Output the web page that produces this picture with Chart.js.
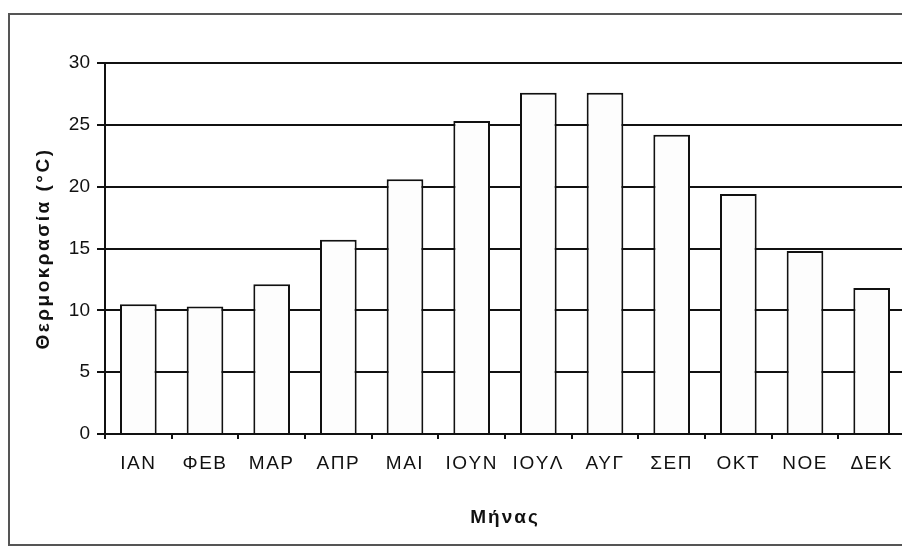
<!DOCTYPE html>
<html>
<head>
<meta charset="utf-8">
<script src="https://cdn.jsdelivr.net/npm/chart.js@4"></script>
<style>
  html, body { margin: 0; padding: 0; background: #fff; overflow: hidden; }
  body { width: 902px; height: 549px; position: relative; }
  #frame {
    position: absolute; left: 8px; top: 13px; width: 1000px; height: 533px;
    border: 2px solid #555; box-sizing: border-box;
  }
  #wrap { position: absolute; left: 0; top: 0; width: 920px; height: 549px; }
</style>
</head>
<body>
<div id="frame"></div>
<div id="wrap"><canvas id="c" width="920" height="549"></canvas></div>
<script>
// Monthly mean temperature (°C)
const months = ['IAN', 'ΦΕΒ', 'MAP', 'AΠΡ', 'MAI', 'IOYN', 'IOYΛ', 'AYΓ', 'ΣΕΠ', 'OKT', 'NOE', 'ΔΕΚ'];
const temperature = [10.5, 10.3, 12.1, 15.7, 20.6, 25.3, 27.6, 27.6, 24.2, 19.4, 14.8, 11.8];
const yTicks = [0, 5, 10, 15, 20, 25, 30];

const FONT = "'Liberation Sans', Arial, sans-serif";
const INK = '#111';

// Wrap one of a scale's draw methods so its text is drawn with extra letter spacing.
function spaced(scale, method, spacing) {
  if (scale['_spaced_' + method]) return;
  const orig = scale[method];
  scale[method] = function (...args) {
    const ctx = this.ctx;
    const prev = ctx.letterSpacing;
    ctx.letterSpacing = spacing;
    orig.apply(this, args);
    ctx.letterSpacing = prev || '0px';
  };
  scale['_spaced_' + method] = true;
}

new Chart(document.getElementById('c'), {
  type: 'bar',
  data: {
    labels: months,
    datasets: [{
      data: temperature,
      backgroundColor: '#fdfdfd',
      borderColor: INK,
      borderWidth: 2,
      barPercentage: 0.55,
      categoryPercentage: 1.0
    }]
  },
  options: {
    responsive: false,
    animation: false,
    devicePixelRatio: 1,
    layout: { padding: { top: 63, right: 15, left: 0, bottom: 0 } },
    plugins: { legend: { display: false }, tooltip: { enabled: false } },
    scales: {
      x: {
        offset: true,
        afterFit: s => {
          s.height = 115;
          spaced(s, 'drawLabels', '1.5px');
          spaced(s, 'drawTitle', '2px');
        },
        grid: { display: true, drawOnChartArea: false, drawTicks: true, tickLength: 5, color: INK, lineWidth: 2, offset: true },
        border: { display: true, color: INK, width: 2 },
        ticks: { color: INK, font: { family: FONT, size: 19 }, padding: 13, maxRotation: 0, autoSkip: false },
        title: { display: true, text: 'Μήνας', color: INK, font: { family: FONT, size: 19, weight: 'bold' }, padding: { top: 0, bottom: 20 } }
      },
      y: {
        min: 0, max: 30,
        afterFit: s => {
          s.width = 105;
          spaced(s, 'drawTitle', '2.5px');
        },
        afterBuildTicks: s => { s.ticks = yTicks.map(v => ({ value: v })); },
        grid: { color: INK, lineWidth: 2, tickLength: 8, drawTicks: true },
        border: { display: true, color: INK, width: 2 },
        ticks: { color: INK, font: { family: FONT, size: 19 }, padding: 7 },
        title: { display: true, text: 'Θερμοκρασία (°C)', color: INK, font: { family: FONT, size: 19, weight: 'bold' }, padding: { top: 32, bottom: 0 } }
      }
    }
  }
});
</script>
</body>
</html>
